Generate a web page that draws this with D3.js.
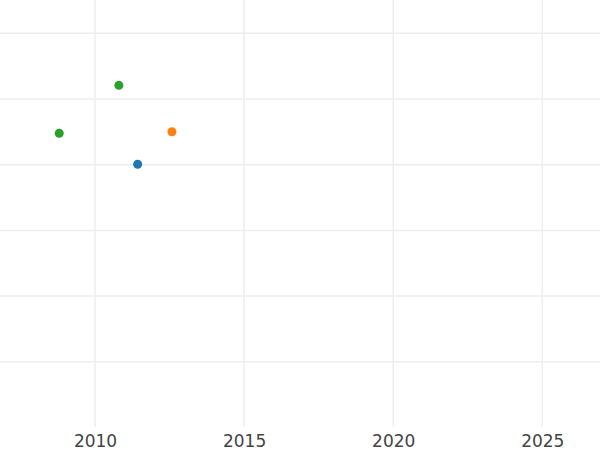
<!DOCTYPE html>
<html>
<head>
<meta charset="utf-8">
<script src="https://cdn.jsdelivr.net/npm/d3@7"></script>
<style>
  html, body { margin: 0; padding: 0; background: #fff; }
  svg { display: block; }
</style>
</head>
<body>
<svg id="chart" width="600" height="450"></svg>
<script>
// Data
const years  = [2008.80, 2010.80, 2012.58, 2011.43];
const values = [44.78, 52.08, 45.02, 40.06];
const series = ["green", "green", "orange", "blue"];
const xTicks = [2010, 2015, 2020, 2025];
const yTicks = [10, 20, 30, 40, 50, 60];

const colorMap = { blue: "#1f77b4", orange: "#ff7f0e", green: "#2ca02c" };

const W = 600, H = 450;
const plot = { left: 0, right: 600, top: 0, bottom: 427 };

const x = d3.scaleLinear()
  .domain([2010, 2025])
  .range([95, 542.3]);

const y = d3.scaleLinear()
  .domain([0, 60])
  .range([427.5, 33.3]);

const svg = d3.select("#chart");

// horizontal grid
svg.append("g")
  .selectAll("line")
  .data(yTicks)
  .join("line")
  .attr("x1", plot.left).attr("x2", plot.right)
  .attr("y1", d => y(d)).attr("y2", d => y(d))
  .attr("stroke", "#eeeeee").attr("stroke-width", 1.5);

// vertical grid
svg.append("g")
  .selectAll("line")
  .data(xTicks)
  .join("line")
  .attr("x1", d => x(d)).attr("x2", d => x(d))
  .attr("y1", plot.top).attr("y2", plot.bottom)
  .attr("stroke", "#eeeeee").attr("stroke-width", 1.5);

// x axis labels
const xAxis = d3.axisBottom(x).tickValues(xTicks).tickFormat(d3.format("d")).tickSize(0).tickPadding(0);
const gx = svg.append("g").attr("transform", `translate(0,${plot.bottom})`).call(xAxis);
gx.select(".domain").remove();
gx.selectAll("text")
  .attr("dy", null)
  .attr("y", 20)
  .attr("fill", "#444")
  .style("font-family", "'DejaVu Sans', sans-serif")
  .style("font-size", "17px");

// points
svg.append("g")
  .selectAll("circle")
  .data(years.map((d, i) => ({ x: d, y: values[i], s: series[i] })))
  .join("circle")
  .attr("cx", d => x(d.x))
  .attr("cy", d => y(d.y))
  .attr("r", 4.5)
  .attr("fill", d => colorMap[d.s]);
</script>
</body>
</html>
